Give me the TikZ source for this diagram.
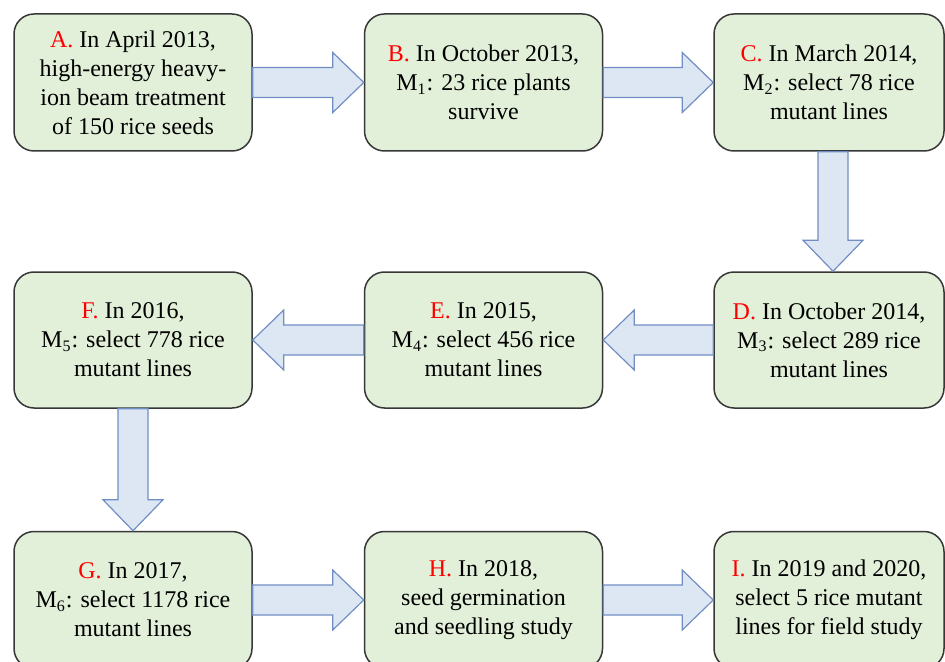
\documentclass[tikz,border=0pt]{standalone}
\usepackage{fontspec}
\setmainfont{Liberation Serif}
\usetikzlibrary{calc}

\definecolor{boxgreen}{RGB}{226,239,217}
\definecolor{boxline}{RGB}{55,55,55}
\definecolor{arrowfill}{RGB}{221,231,244}
\definecolor{arrowline}{RGB}{112,142,196}

\newcommand{\stagetag}[1]{\textcolor{red}{#1}}

% block arrow from one node anchor to another
\newcommand{\blockarrow}[2]{%
  \draw[blockarrow] ($(#1)!7.5pt!90:(#2)$)
    -- ($(#2)!15.5pt!(#1)!7.5pt!90:(#2)$)
    -- ($(#2)!15.5pt!(#1)!15pt!90:(#2)$)
    -- (#2)
    -- ($(#2)!15.5pt!(#1)!15pt!-90:(#2)$)
    -- ($(#2)!15.5pt!(#1)!7.5pt!-90:(#2)$)
    -- ($(#1)!7.5pt!-90:(#2)$) -- cycle;}

\tikzset{
  stagebox/.style={draw=boxline, fill=boxgreen, line width=0.75pt, rounded corners=10pt,
    minimum width=119pt, minimum height=68.5pt, inner sep=0pt, align=center,
    font=\fontsize{12}{14.5}\selectfont},
  blockarrow/.style={draw=arrowline, fill=arrowfill, line width=0.6pt, line join=miter},
}

\begin{document}
\begin{tikzpicture}[x=0.5pt,y=0.5pt]
    \useasboundingbox (0,0) rectangle (945,-662);

    % first row
    \node[stagebox] (A) at (133,-82.5) {\stagetag{A.} In April 2013,\\high-energy heavy-\\ion beam treatment\\of 150 rice seeds};
    \node[stagebox] (B) at (483.5,-82.5) {\stagetag{B.} In October 2013,\\M\textsubscript{1}: 23 rice plants\\survive};
    \node[stagebox, minimum width=115pt] (C) at (829,-82.5) {\stagetag{C.} In March 2014,\\M\textsubscript{2}: select 78 rice\\mutant lines};

    % second row
    \node[stagebox, minimum width=115pt, minimum height=68pt] (D) at (829,-340) {\stagetag{D.} In October 2014,\\M\textsubscript{3}: select 289 rice\\mutant lines};
    \node[stagebox, minimum height=68pt] (E) at (483.5,-340) {\stagetag{E.} In 2015,\\M\textsubscript{4}: select 456 rice\\mutant lines};
    \node[stagebox, minimum height=68pt] (F) at (133,-340) {\stagetag{F.} In 2016,\\M\textsubscript{5}: select 778 rice\\mutant lines};

    % third row
    \node[stagebox] (G) at (133,-600) {\stagetag{G.} In 2017,\\M\textsubscript{6}: select 1178 rice\\mutant lines};
    \node[stagebox] (H) at (483.5,-600) {\stagetag{H.} In 2018,\\seed germination\\and seedling study};
    \node[stagebox, minimum width=115pt] (I) at (829,-600) {\stagetag{I.} In 2019 and 2020,\\select 5 rice mutant\\lines for field study};

    % arrows
    \blockarrow{A.east}{B.west}
    \blockarrow{B.east}{C.west}
    \blockarrow{[xshift=2pt]C.south}{[xshift=2pt]D.north}
    \blockarrow{D.west}{E.east}
    \blockarrow{E.west}{F.east}
    \blockarrow{F.south}{G.north}
    \blockarrow{G.east}{H.west}
    \blockarrow{H.east}{I.west}

\end{tikzpicture}
\end{document}
